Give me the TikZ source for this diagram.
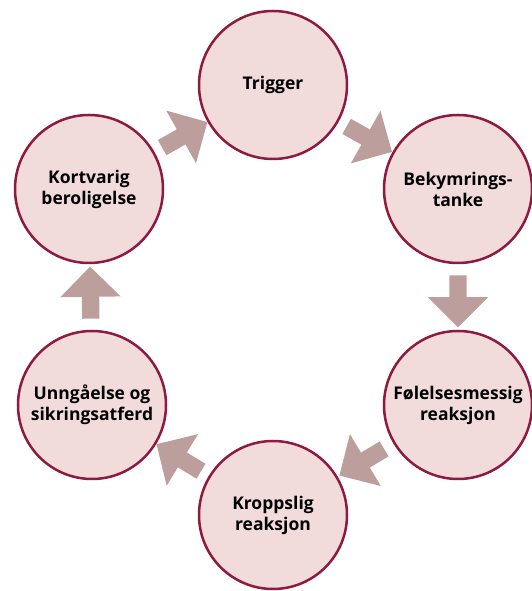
\documentclass[tikz,border=0pt]{standalone}
\usepackage{fontspec}
\setmainfont{Open Sans}
\usetikzlibrary{shapes.arrows}
\definecolor{circfill}{HTML}{F2DCDB}
\definecolor{circline}{HTML}{8E1B3F}
\definecolor{arrfill}{HTML}{BC9E9C}

\begin{document}
\begin{tikzpicture}[x=1pt, y=1pt,
		stage/.style={circle, draw=circline, fill=circfill, line width=2.5pt, minimum size=148pt, inner sep=0pt, align=center, font=\bfseries\fontsize{17.5}{21}\selectfont},
		flowarrow/.style={single arrow, fill=arrfill, draw=none, sloped, allow upside down, inner xsep=0pt, inner ysep=8.5pt, minimum height=52pt, single arrow head extend=21.5pt}]
		\useasboundingbox (0, 0) rectangle (531, 591);
		
		\node[stage] (trigger) at (273, 506) {Trigger};
		\node[stage] (bekymring) at (458, 402) {Bekymrings-\\tanke};
		\node[stage] (folelse) at (458, 186) {Følelsesmessig\\reaksjon};
		\node[stage] (kropp) at (273, 76) {Kroppslig\\reaksjon};
		\node[stage] (unngaa) at (92, 186) {Unngåelse og\\sikringsatferd};
		\node[stage] (kortvarig) at (89, 402) {Kortvarig\\beroligelse};
		
		\path (trigger) -- node[flowarrow] {} (bekymring);
		\path (bekymring) -- node[flowarrow] {} (folelse);
		\path (folelse) -- node[flowarrow] {} (kropp);
		\path (kropp) -- node[flowarrow] {} (unngaa);
		\path (unngaa) -- node[flowarrow] {} (kortvarig);
		\path (kortvarig) -- node[flowarrow] {} (trigger);
	\end{tikzpicture}
\end{document}
